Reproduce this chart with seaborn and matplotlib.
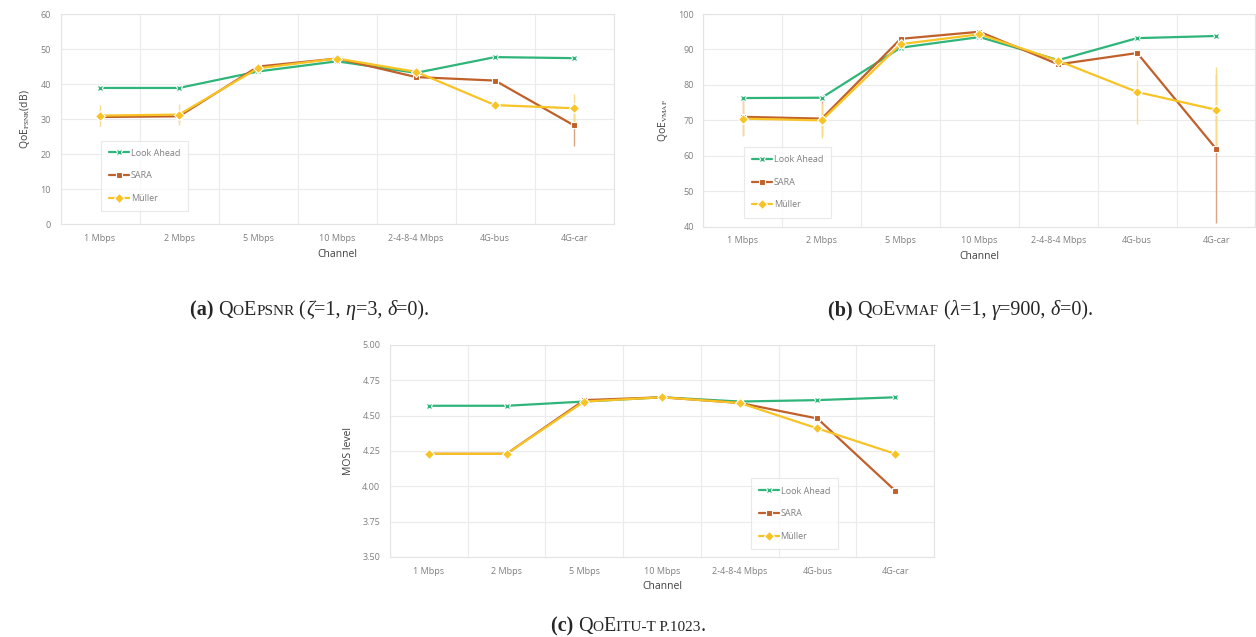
import numpy as np
import pandas as pd
import matplotlib
matplotlib.use("Agg")
import matplotlib.pyplot as plt
import seaborn as sns

sns.set_style("whitegrid")
plt.rcParams["font.family"] = ["Open Sans", "DejaVu Sans"]
plt.rcParams["mathtext.fontset"] = "stix"

# ============================
# DATA
# ============================
channels = ["1 Mbps", "2 Mbps", "5 Mbps", "10 Mbps", "2-4-8-4 Mbps", "4G-bus", "4G-car"]
methods = ["Look Ahead", "SARA", "Müller"]

# (a) QoE PSNR
psnr_look = [38.9, 38.9, 43.6, 46.5, 43.2, 47.7, 47.4]
psnr_sara = [30.6, 30.8, 45.0, 47.3, 42.0, 41.0, 28.2]
psnr_muller = [31.0, 31.3, 44.5, 47.3, 43.5, 34.0, 33.1]
psnr_err_look = [0, 0, 0, 0, 0, 0, 0]
psnr_err_sara = [1.5, 1.5, 0, 0, 0, 0, 6]
psnr_err_muller = [3, 3, 1, 0.5, 1, 0, 4]

# (b) QoE VMAF
vmaf_look = [76.3, 76.4, 90.5, 93.5, 87.0, 93.2, 93.8]
vmaf_sara = [71.0, 70.5, 93.0, 95.0, 85.8, 89.0, 62.0]
vmaf_muller = [70.5, 70.0, 91.5, 94.3, 86.8, 78.0, 73.0]
vmaf_err_look = [0, 0, 0, 0, 0, 0, 0]
vmaf_err_sara = [5, 5, 0, 0, 0, 0, 21]
vmaf_err_muller = [5, 5, 1, 1, 1, 9, 12]

# (c) MOS (ITU-T P.1023)
mos_look = [4.57, 4.57, 4.60, 4.63, 4.60, 4.61, 4.63]
mos_sara = [4.23, 4.23, 4.61, 4.63, 4.59, 4.48, 3.97]
mos_muller = [4.23, 4.23, 4.60, 4.63, 4.59, 4.41, 4.23]

palette = {"Look Ahead": "#2fb57a", "SARA": "#c0602a", "Müller": "#f7c325"}
err_colors = {"Look Ahead": "#9fdcc0", "SARA": "#d9a585", "Müller": "#f7dc8a"}
markers = {"Look Ahead": "X", "SARA": "s", "Müller": "D"}


def long_df(look, sara, muller):
    return pd.DataFrame({
        "Channel": channels * 3,
        "value": look + sara + muller,
        "method": [m for m in methods for _ in channels],
    })


def draw(ax, df, errs, ylim, yticks, ylabel, legend_anchor, fmt="{:.0f}"):
    if errs is not None:
        for m, e in zip(methods, errs):
            vals = df.loc[df["method"] == m, "value"].values
            ax.errorbar(np.arange(len(channels)), vals, yerr=e, fmt="none",
                        ecolor=err_colors[m], elinewidth=1, capsize=0, zorder=1)
    sns.lineplot(data=df, x="Channel", y="value", hue="method", style="method",
                 palette=palette, markers=markers, dashes=False, linewidth=1.6,
                 markersize=5, markeredgewidth=0.8, sort=False, ax=ax, zorder=3)
    ax.set_xlim(-0.5, len(channels) - 0.5)
    ax.set_ylim(*ylim)
    ax.set_yticks(yticks)
    ax.set_yticklabels([fmt.format(t) for t in yticks])
    ax.set_xticks(range(len(channels)))
    ax.set_xticklabels(channels)
    ax.set_xticks(np.arange(-0.5, len(channels), 1), minor=True)
    ax.grid(False, axis="x", which="major")
    ax.grid(True, axis="x", which="minor", color="#ebebeb", linewidth=0.8)
    ax.grid(True, axis="y", which="major", color="#ebebeb", linewidth=0.8)
    ax.tick_params(axis="both", which="both", length=0, labelsize=6.5,
                   labelcolor="#7f7f7f", pad=7)
    for s in ax.spines.values():
        s.set_color("#e4e4e4")
        s.set_linewidth(0.8)
    ax.set_xlabel("Channel", fontsize=7.5, color="#404040", labelpad=4)
    ax.set_ylabel(ylabel, fontsize=7.5, color="#404040", labelpad=6)
    leg = ax.legend(loc="lower left", bbox_to_anchor=legend_anchor, fontsize=6.5,
                    frameon=True, labelspacing=1.5, handlelength=2.2,
                    handletextpad=0.2, borderpad=0.6, title=None)
    leg.get_frame().set_edgecolor("#e4e4e4")
    leg.get_frame().set_linewidth(0.8)
    leg.get_frame().set_boxstyle("square")
    for t in leg.get_texts():
        t.set_color("#7f7f7f")


def caption(fig, xc, y, pieces, size=14.5):
    # place text pieces one after another on a shared baseline, centred on xc
    renderer = fig.canvas.get_renderer()
    texts = []
    for s, kw in pieces:
        t = fig.text(0, y, s, family="Liberation Serif", va="baseline",
                     fontsize=size * kw.pop("scale", 1.0), **kw)
        texts.append(t)
    widths = [t.get_window_extent(renderer).width for t in texts]
    total = sum(widths) / fig.bbox.width
    x = xc - total / 2
    for t, w in zip(texts, widths):
        t.set_x(x)
        x += w / fig.bbox.width


fig = plt.figure(figsize=(12.56, 6.37), dpi=100)
ax_a = fig.add_axes([0.0482, 0.648, 0.4403, 0.330])
ax_b = fig.add_axes([0.5601, 0.644, 0.4395, 0.334])
ax_c = fig.add_axes([0.3105, 0.1256, 0.4331, 0.3328])

draw(ax_a, long_df(psnr_look, psnr_sara, psnr_muller),
     [psnr_err_look, psnr_err_sara, psnr_err_muller],
     (0, 60), range(0, 61, 10), r"QoE$_{\mathrm{PSNR}}$(dB)", (0.07, 0.055))
draw(ax_b, long_df(vmaf_look, vmaf_sara, vmaf_muller),
     [vmaf_err_look, vmaf_err_sara, vmaf_err_muller],
     (40, 100), range(40, 101, 10), r"QoE$_{\mathrm{VMAF}}$", (0.07, 0.035))
draw(ax_c, long_df(mos_look, mos_sara, mos_muller), None,
     (3.5, 5.0), np.arange(3.5, 5.01, 0.25), "MOS level", (0.66, 0.03),
     fmt="{:.2f}")

# captions
caption(fig, 0.2465, 0.5055, [
    ("(a) ", dict(weight="bold")), ("Q", {}), ("O", dict(scale=0.76)), ("E", {}),
    ("PSNR", dict(scale=0.76)), (" (", {}), ("ζ", dict(style="italic")), ("=1, ", {}),
    ("η", dict(style="italic")), ("=3, ", {}), ("δ", dict(style="italic")), ("=0).", {}),
])
caption(fig, 0.7645, 0.5055, [
    ("(b) ", dict(weight="bold")), ("Q", {}), ("O", dict(scale=0.76)), ("E", {}),
    ("VMAF", dict(scale=0.76)), (" (", {}), ("λ", dict(style="italic")), ("=1, ", {}),
    ("γ", dict(style="italic")), ("=900, ", {}), ("δ", dict(style="italic")), ("=0).", {}),
])
caption(fig, 0.5, 0.0094, [
    ("(c) ", dict(weight="bold")), ("Q", {}), ("O", dict(scale=0.76)), ("E", {}),
    ("ITU-T P.1023", dict(scale=0.76)), (".", {}),
])

fig.savefig("out.png", dpi=100, facecolor="white")
